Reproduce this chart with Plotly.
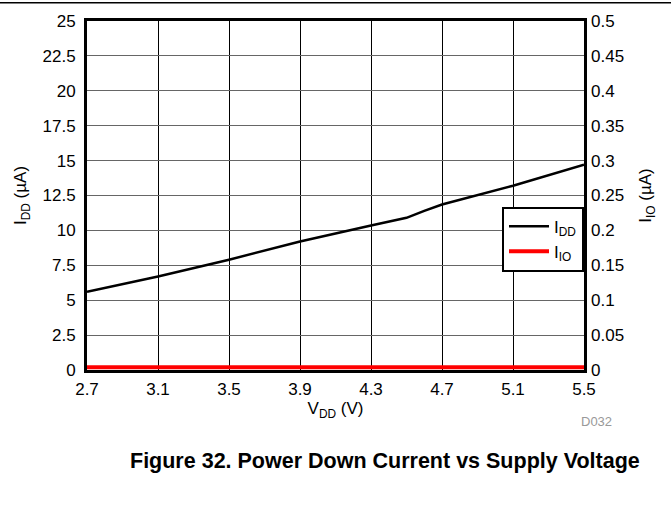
import plotly.graph_objects as go

# Supply voltage sweep (V)
vdd = [2.7, 3.1, 3.5, 3.9, 4.3, 4.5, 4.6, 4.7, 5.1, 5.5]
# Power-down supply current I_DD (uA)
idd = [5.6, 6.7, 7.9, 9.2, 10.35, 10.9, 11.4, 11.85, 13.2, 14.7]
# Power-down I/O current I_IO (uA)
iio = [0.004, 0.004, 0.004, 0.004, 0.004, 0.004, 0.004, 0.004, 0.004, 0.004]

x_ticks = [2.7, 3.1, 3.5, 3.9, 4.3, 4.7, 5.1, 5.5]
y_ticks = [0, 2.5, 5, 7.5, 10, 12.5, 15, 17.5, 20, 22.5, 25]
y2_ticks = [0, 0.05, 0.1, 0.15, 0.2, 0.25, 0.3, 0.35, 0.4, 0.45, 0.5]

FONT = "Liberation Sans, Arial, sans-serif"
FS = 17

fig = go.Figure()
fig.add_trace(go.Scatter(x=vdd, y=idd, mode="lines", name="I<sub>DD</sub>",
                         line=dict(color="black", width=2.5)))
fig.add_trace(go.Scatter(x=vdd, y=iio, mode="lines", name="I<sub>IO</sub>",
                         line=dict(color="#ff0000", width=4), yaxis="y2"))

fig.update_layout(
    width=671, height=506,
    margin=dict(l=87, r=87, t=15, b=136),
    paper_bgcolor="white", plot_bgcolor="white",
    font=dict(family=FONT, size=FS, color="black"),
    xaxis=dict(range=[2.7, 5.5], tickvals=x_ticks, ticktext=[str(v) for v in x_ticks],
               showgrid=True, gridcolor="black", gridwidth=1,
               showline=True, linecolor="black", linewidth=3, mirror=True,
               ticks="", zeroline=False, ticklabelstandoff=2,
               title=dict(text="V<sub>DD</sub> (V)", standoff=4, font=dict(size=FS))),
    yaxis=dict(range=[0, 25], tickvals=y_ticks, ticktext=[f"{v:g}" for v in y_ticks],
               showgrid=True, gridcolor="#666666", gridwidth=1,
               showline=True, linecolor="black", linewidth=3, mirror=True,
               ticks="", zeroline=False, ticklabelstandoff=5,
               title=dict(text="I<sub>DD</sub> (µA)", standoff=12, font=dict(size=FS))),
    yaxis2=dict(range=[0, 0.5], tickvals=y2_ticks, ticktext=[f"{v:g}" for v in y2_ticks],
                overlaying="y", side="right", showgrid=False, zeroline=False,
                showline=False, ticks="", ticklabelstandoff=6,
                title=dict(text="I<sub>IO</sub> (µA)", standoff=16, font=dict(size=FS))),
    legend=dict(x=1, xanchor="right", y=0.375, yanchor="middle",
                bgcolor="white", bordercolor="black", borderwidth=2,
                font=dict(size=FS), tracegroupgap=0, itemwidth=40),
    showlegend=True,
)

# Horizontal rule across the top of the page
fig.add_shape(type="line", xref="paper", yref="paper", x0=-0.2, x1=1.2,
              y0=1.052, y1=1.052, line=dict(color="black", width=1.5))

fig.add_annotation(text="D032", xref="paper", yref="paper", x=1.06, y=-0.175,
                   showarrow=False, font=dict(size=13, color="#999999"))
fig.add_annotation(text="<b>Figure 32. Power Down Current vs Supply Voltage</b>",
                   xref="paper", yref="paper", x=0.6, y=-0.30, xanchor="center",
                   showarrow=False, font=dict(size=21.5, color="black"))

fig.write_html("out.html")
